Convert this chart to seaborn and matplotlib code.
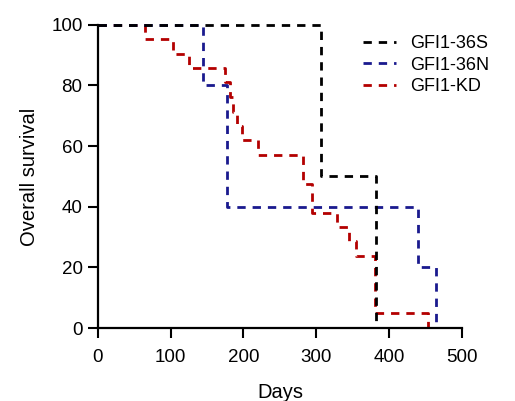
import matplotlib
matplotlib.use("Agg")
import matplotlib.pyplot as plt
import pandas as pd
import seaborn as sns

# step points (day, survival %)
days_36s = [0, 306, 382]
surv_36s = [100, 50, 0]

days_36n = [0, 145, 178, 440, 464]
surv_36n = [100, 80, 40, 20, 0]

days_kd = [0, 65, 103, 125, 175, 181, 186, 191, 198, 220, 282, 294, 328, 345, 355, 381, 453]
surv_kd = [100, 95.2, 90.5, 85.7, 81.0, 76.2, 71.4, 66.7, 61.9, 57.1, 47.6, 38.1, 33.3, 28.6, 23.8, 4.8, 0]

groups = ["GFI1-36S", "GFI1-36N", "GFI1-KD"]
colors = ["#000000", "#1a1a8e", "#b30000"]

df = pd.concat(
    [
        pd.DataFrame({"Days": days_36s, "Survival": surv_36s, "group": groups[0]}),
        pd.DataFrame({"Days": days_36n, "Survival": surv_36n, "group": groups[1]}),
        pd.DataFrame({"Days": days_kd, "Survival": surv_kd, "group": groups[2]}),
    ],
    ignore_index=True,
)

sns.set_style("ticks")
plt.rcParams["font.family"] = ["Liberation Sans", "DejaVu Sans"]
plt.rcParams["text.color"] = "black"
plt.rcParams["axes.labelcolor"] = "black"
plt.rcParams["xtick.color"] = "black"
plt.rcParams["ytick.color"] = "black"

fig = plt.figure(figsize=(5.15, 4.01), dpi=100)
ax = fig.add_axes([0.19, 0.182, 0.707, 0.756])

# draw in reverse order so black sits on top, as in the reference
for g, c in reversed(list(zip(groups, colors))):
    sub = df[df["group"] == g]
    sns.lineplot(
        data=sub, x="Days", y="Survival", ax=ax, color=c, label=g,
        drawstyle="steps-post", linewidth=2, estimator=None, sort=False,
        clip_on=False,
    )
for line in ax.lines:
    line.set_linestyle((0, (3, 2.5)))

ax.set_xlim(0, 500)
ax.set_ylim(0, 100)
ax.set_xticks(range(0, 501, 100))
ax.set_yticks(range(0, 101, 20))
ax.set_xlabel("Days", fontsize=14.5, labelpad=12)
ax.set_ylabel("Overall survival", fontsize=14.5, labelpad=9)
ax.tick_params(labelsize=13.5, width=1.5, length=7, pad=4)
ax.tick_params(axis="x", pad=8)
for s in ["left", "bottom"]:
    ax.spines[s].set_linewidth(1.6)
    ax.spines[s].set_color("black")
sns.despine(ax=ax)

handles, labels = ax.get_legend_handles_labels()
order = [labels.index(g) for g in groups]
ax.legend([handles[i] for i in order], [labels[i] for i in order],
          loc="upper right", bbox_to_anchor=(1.12, 1.02), frameon=False,
          fontsize=13, handlelength=1.8, handletextpad=0.8, labelspacing=0.25)

fig.savefig("out.png", dpi=100)
